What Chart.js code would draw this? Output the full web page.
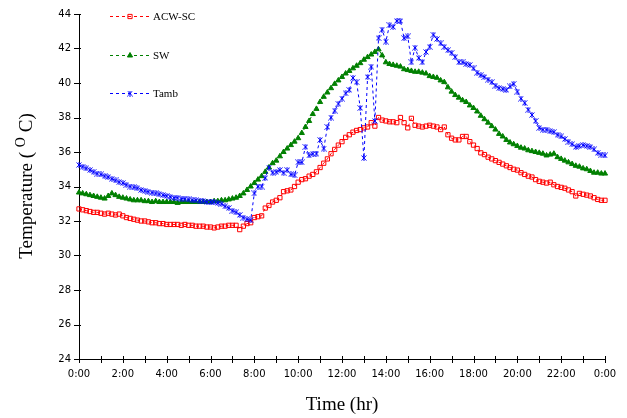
<!DOCTYPE html>
<html>
<head>
<meta charset="utf-8">
<script src="https://cdn.jsdelivr.net/npm/chart.js@4.4.1/dist/chart.umd.min.js"></script>
<style>
  html, body { margin: 0; padding: 0; background: #fff; }
  #wrap { width: 627px; height: 418px; }
</style>
</head>
<body>
<div id="wrap"><canvas id="chart" width="627" height="418"></canvas></div>
<script>
/* Temperature vs time of day — ACW-SC, SW, Tamb */

// ── Data (10-minute readings, 0:00 → 0:00) ──────────────────────────────────

const X_TICK_LABELS = ['0:00', '2:00', '4:00', '6:00', '8:00', '10:00', '12:00',
  '14:00', '16:00', '18:00', '20:00', '22:00', '0:00'];

const SERIES_NAMES = ['ACW-SC', 'SW', 'Tamb'];

const ACW_SC = [
  32.7, 32.65, 32.6, 32.55, 32.5, 32.5,
  32.45, 32.4, 32.45, 32.4, 32.35, 32.4,
  32.3, 32.2, 32.15, 32.1, 32.05, 32.0,
  32.0, 31.95, 31.9, 31.9, 31.85, 31.85,
  31.8, 31.8, 31.8, 31.8, 31.75, 31.8,
  31.75, 31.75, 31.7, 31.7, 31.7, 31.65,
  31.65, 31.6, 31.65, 31.7, 31.7, 31.75,
  31.75, 31.75, 31.5, 31.7, 31.85, 31.9,
  32.2, 32.25, 32.3, 32.75, 32.9, 33.1,
  33.2, 33.35, 33.7, 33.75, 33.8, 34.0,
  34.25, 34.4, 34.45, 34.6, 34.7, 34.85,
  35.1, 35.35, 35.6, 35.9, 36.15, 36.4,
  36.6, 36.85, 37.0, 37.15, 37.25, 37.3,
  37.4, 37.45, 37.7, 37.5, 38.0, 37.85,
  37.8, 37.75, 37.75, 37.7, 38.0, 37.7,
  37.4, 37.95, 37.55, 37.5, 37.45, 37.5,
  37.55, 37.5, 37.45, 37.3, 37.45, 37.0,
  36.8, 36.7, 36.7, 36.9, 36.9, 36.6,
  36.4, 36.2, 35.95, 35.85, 35.7, 35.6,
  35.5, 35.4, 35.3, 35.2, 35.1, 35.0,
  34.95, 34.8, 34.7, 34.6, 34.55, 34.4,
  34.3, 34.25, 34.2, 34.25, 34.1, 34.0,
  33.95, 33.9, 33.8, 33.7, 33.45, 33.6,
  33.55, 33.5, 33.45, 33.35, 33.25, 33.2,
  33.2
];

const SW = [
  33.65, 33.6, 33.55, 33.5, 33.45, 33.4,
  33.35, 33.3, 33.45, 33.6, 33.5, 33.4,
  33.35, 33.3, 33.25, 33.2, 33.2, 33.2,
  33.15, 33.15, 33.1, 33.15, 33.1, 33.1,
  33.1, 33.1, 33.1, 33.05, 33.1, 33.1,
  33.1, 33.1, 33.1, 33.1, 33.1, 33.1,
  33.1, 33.15, 33.15, 33.2, 33.2, 33.25,
  33.3, 33.35, 33.45, 33.6, 33.8, 34.0,
  34.2, 34.4, 34.6, 34.85, 35.1, 35.35,
  35.5, 35.75, 36.0, 36.2, 36.4, 36.6,
  36.8, 37.1, 37.45, 37.8, 38.2, 38.5,
  38.9, 39.2, 39.45, 39.7, 39.95, 40.15,
  40.35, 40.55, 40.7, 40.85, 41.0, 41.15,
  41.35, 41.5, 41.65, 41.8, 41.95, 41.6,
  41.2, 41.1, 41.05, 41.0, 40.95, 40.8,
  40.75, 40.7, 40.65, 40.65, 40.6, 40.55,
  40.4, 40.35, 40.3, 40.15, 40.05, 39.75,
  39.5, 39.3, 39.15, 39.0, 38.9, 38.7,
  38.55, 38.35, 38.1, 37.9, 37.7, 37.5,
  37.3, 37.05, 36.9, 36.7, 36.55, 36.45,
  36.35, 36.25, 36.2, 36.1, 36.05, 36.0,
  35.95, 35.9, 35.8, 35.85, 35.9, 35.7,
  35.6, 35.5, 35.4, 35.3, 35.2, 35.15,
  35.05, 35.0, 34.9, 34.8, 34.8, 34.75,
  34.75
];

const TAMB = [
  35.25, 35.15, 35.05, 34.95, 34.85, 34.75,
  34.7, 34.6, 34.55, 34.45, 34.35, 34.25,
  34.2, 34.1, 34.0, 33.95, 33.9, 33.8,
  33.75, 33.7, 33.65, 33.6, 33.55, 33.5,
  33.45, 33.4, 33.35, 33.35, 33.3, 33.3,
  33.25, 33.2, 33.2, 33.15, 33.15, 33.1,
  33.1, 33.1, 33.05, 33.0, 32.85, 32.75,
  32.6, 32.5, 32.35, 32.2, 32.1, 32.05,
  33.6, 34.0, 34.0, 34.5, 35.1, 34.8,
  34.85, 34.95, 34.8, 34.95, 34.7, 34.65,
  35.4, 35.4, 36.3, 35.8, 35.9, 35.9,
  36.7, 36.2, 37.45, 38.0, 38.4, 38.8,
  39.1, 39.4, 39.6, 40.3, 40.05, 38.55,
  35.65, 40.35, 40.95, 37.8, 42.6, 43.1,
  42.4, 43.35, 43.25, 43.6, 43.6, 42.6,
  42.7, 41.2, 42.05, 41.45, 41.2, 41.8,
  42.1, 42.8, 42.55, 42.3, 42.1, 41.9,
  41.75, 41.5, 41.2, 41.2, 41.1, 41.05,
  40.85, 40.6, 40.45, 40.35, 40.2, 40.05,
  39.85, 39.7, 39.65, 39.6, 39.8, 39.95,
  39.5, 39.1, 38.85, 38.45, 38.15, 37.8,
  37.4, 37.3, 37.3, 37.2, 37.15, 37.0,
  36.9, 36.75, 36.6, 36.45, 36.3, 36.35,
  36.4, 36.35, 36.3, 36.15, 35.95, 35.85,
  35.8
];

// time axis in hours, one reading every 10 minutes
const TIMES = ACW_SC.map((_, i) => i / 6);

// ── Markers ──────────────────────────────────────────────────────────────────

function starMarker(color) {
  const c = document.createElement('canvas');
  c.width = 6; c.height = 6;
  const g = c.getContext('2d');
  g.strokeStyle = color; g.lineWidth = 1;
  g.beginPath();
  g.moveTo(0.5, 0.5); g.lineTo(5.5, 5.5);
  g.moveTo(5.5, 0.5); g.lineTo(0.5, 5.5);
  g.moveTo(3, 0); g.lineTo(3, 6);
  g.stroke();
  return c;
}

const TICK_FONT = { family: "'DejaVu Sans', sans-serif", size: 10 };
const SERIF = "'Liberation Serif', 'Times New Roman', serif";

// ── Decorations: crossing ticks, legend, axis titles ────────────────────────

const decor = {
  id: 'decor',
  afterDraw(chart) {
    const { ctx, chartArea: a, scales: { x, y } } = chart;
    ctx.save();

    // tick marks crossing the axes
    ctx.strokeStyle = '#000';
    ctx.lineWidth = 1;
    ctx.beginPath();
    x.ticks.forEach(t => {
      const px = Math.round(x.getPixelForValue(t.value)) + 0.5;
      ctx.moveTo(px, a.bottom - 3);
      ctx.lineTo(px, a.bottom + 4);
    });
    y.ticks.forEach(t => {
      const py = Math.round(y.getPixelForValue(t.value)) + 0.5;
      ctx.moveTo(a.left - 5, py);
      ctx.lineTo(a.left + 2, py);
    });
    ctx.stroke();

    // legend inside the plot, top-left
    const rows = [16, 55, 93];
    chart.data.datasets.forEach((ds, i) => {
      const ly = rows[i] + 0.5;
      ctx.strokeStyle = ds.borderColor;
      ctx.setLineDash([3, 3]);
      ctx.beginPath();
      ctx.moveTo(110, ly);
      ctx.lineTo(150, ly);
      ctx.stroke();
      ctx.setLineDash([]);
      ctx.fillStyle = ds.pointBackgroundColor;
      ctx.strokeStyle = ds.borderColor;
      Chart.helpers.drawPoint(ctx, {
        pointStyle: ds.pointStyle, radius: ds.pointRadius,
        rotation: 0, borderWidth: 1
      }, 130, ly);
      ctx.fillStyle = '#000';
      ctx.font = `11px ${SERIF}`;
      ctx.textBaseline = 'middle';
      ctx.textAlign = 'left';
      ctx.fillText(ds.label, 153, rows[i] + 1);
    });

    // x title
    ctx.fillStyle = '#000';
    ctx.font = `19px ${SERIF}`;
    ctx.textAlign = 'center';
    ctx.textBaseline = 'middle';
    ctx.fillText('Time (hr)', (a.left + a.right) / 2, 405);

    // y title with raised "O"
    ctx.translate(27, 186);
    ctx.rotate(-Math.PI / 2);
    ctx.textAlign = 'left';
    const p1 = 'Temperature ( ', sup = 'O', p3 = ' C)';
    ctx.font = `19px ${SERIF}`;
    const w1 = ctx.measureText(p1).width, w3 = ctx.measureText(p3).width;
    ctx.font = `14px ${SERIF}`;
    const w2 = ctx.measureText(sup).width;
    let cx = -(w1 + w2 + w3) / 2;
    ctx.font = `19px ${SERIF}`;
    ctx.fillText(p1, cx, 0);
    cx += w1;
    ctx.font = `14px ${SERIF}`;
    ctx.fillText(sup, cx, -6);
    cx += w2;
    ctx.font = `19px ${SERIF}`;
    ctx.fillText(p3, cx, 0);

    ctx.restore();
  }
};

// ── Chart ────────────────────────────────────────────────────────────────────

function series(label, data, color, style, fill, order) {
  return {
    label, data, order,
    borderColor: color,
    borderWidth: 1,
    borderDash: [3, 3],
    pointStyle: style,
    pointRadius: 3,
    pointBorderWidth: 1,
    pointBorderColor: color,
    pointBackgroundColor: fill,
    tension: 0,
    clip: false,
  };
}

new Chart(document.getElementById('chart').getContext('2d'), {
  type: 'line',
  data: {
    labels: TIMES,
    datasets: [
      series(SERIES_NAMES[0], ACW_SC, '#ff0000', 'rect', 'rgba(0,0,0,0)', 3),
      series(SERIES_NAMES[1], SW, '#008000', 'triangle', '#008000', 2),
      series(SERIES_NAMES[2], TAMB, '#0000ff', starMarker('#0000ff'), '#0000ff', 1),
    ]
  },
  options: {
    responsive: false,
    animation: false,
    layout: { padding: { top: 14, right: 22, left: 0, bottom: 0 } },
    plugins: { legend: { display: false }, tooltip: { enabled: false } },
    scales: {
      x: {
        type: 'linear', min: 0, max: 24,
        afterFit: s => { s.height = 59; },
        grid: { display: false, drawTicks: false },
        border: { color: '#000', width: 1 },
        ticks: {
          stepSize: 1, autoSkip: false, maxTicksLimit: 30, maxRotation: 0,
          padding: 9, color: '#000', font: TICK_FONT,
          callback: v => (v % 2 === 0 ? X_TICK_LABELS[v / 2] : '')
        }
      },
      y: {
        min: 24, max: 44,
        afterFit: s => { s.width = 79; },
        grid: { display: false, drawTicks: false },
        border: { color: '#000', width: 1 },
        ticks: { stepSize: 2, padding: 8, color: '#000', font: TICK_FONT }
      }
    }
  },
  plugins: [decor]
});
</script>
</body>
</html>
